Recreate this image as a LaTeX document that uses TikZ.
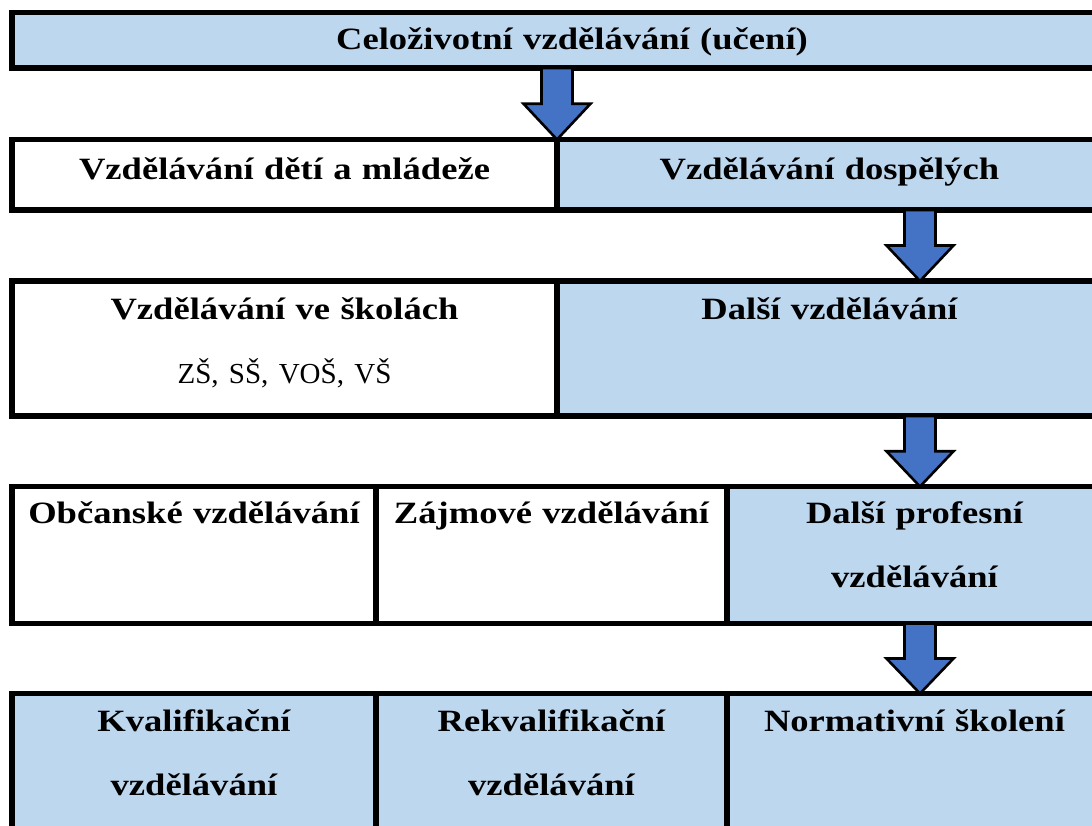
\documentclass[tikz,border=0pt]{standalone}
\usepackage{fontspec}
\setmainfont{Liberation Serif}[FakeStretch=1.18]
\newfontfamily\plainserif{Liberation Serif}
\usetikzlibrary{calc}

\definecolor{cellblue}{HTML}{BDD7EE}
\definecolor{arrowblue}{HTML}{4472C4}

\tikzset{
  cell/.style={draw=black, line width=2.75pt, anchor=north west, inner sep=0pt, outer sep=0pt},
  bluecell/.style={cell, fill=cellblue},
  whitecell/.style={cell, fill=white},
  lbl/.style={anchor=base, align=center, text width=260pt, inner sep=0pt,
    font=\fontsize{15.5}{32}\selectfont\bfseries},
  fatarrow/.style={draw=black, line width=1.3pt, fill=arrowblue, line join=miter},
}

% block arrow from a point on one border to a point on the next
\newcommand{\blockarrow}[2]{%
  \draw[fatarrow] let \p1=(#1), \p2=(#2), \p3=($(#1)!0.5!(#2)$) in
    (\x1-7.75pt,\y1) -- (\x1-7.75pt,\y3) -- (\x1-16.75pt,\y3) -- (\x2,\y2)
    -- (\x1+16.75pt,\y3) -- (\x1+7.75pt,\y3) -- (\x1+7.75pt,\y1) -- cycle;}

\begin{document}
\begin{tikzpicture}[x=0.5pt, y=-0.5pt]
  \useasboundingbox (0,0) rectangle (1092,825);
  \fill[white] (0,0) rectangle (1092,825);
  \clip (0,0) rectangle (1092,825);

  % rows of the table
  \node[bluecell, minimum width=560pt, minimum height=27.75pt] (top) at (12,12.5) {};

  \node[whitecell, minimum width=272.5pt, minimum height=35.25pt] (r2l) at (12,139.5) {};
  \node[bluecell, minimum width=272.5pt, minimum height=35.25pt] (r2r) at (557,139.5) {};

  \node[whitecell, minimum width=272.5pt, minimum height=67.5pt] (r3l) at (12,281) {};
  \node[bluecell, minimum width=272.5pt, minimum height=67.5pt] (r3r) at (557,281) {};

  \node[whitecell, minimum width=182pt, minimum height=68.5pt] (r4a) at (12,486.5) {};
  \node[whitecell, minimum width=175.5pt, minimum height=68.5pt] (r4b) at (376,486.5) {};
  \node[bluecell, minimum width=187.5pt, minimum height=68.5pt] (r4c) at (727,486.5) {};

  \node[bluecell, minimum width=182pt, minimum height=75pt] (r5a) at (12,693.5) {};
  \node[bluecell, minimum width=175.5pt, minimum height=75pt] (r5b) at (376,693.5) {};
  \node[bluecell, minimum width=187.5pt, minimum height=75pt] (r5c) at (727,693.5) {};

  % arrows
  \coordinate (ax) at (920,0);
  \blockarrow{top.south -| r2l.north east}{r2l.north east}
  \blockarrow{r2r.south -| ax}{r3r.north -| ax}
  \blockarrow{r3r.south -| ax}{r4c.north -| ax}
  \blockarrow{r4c.south -| ax}{r5c.north -| ax}

  % texts
  \node[lbl] (ttop) at ([yshift=-18.25pt]top.north) {Celoživotní vzdělávání (učení)};
  \node[lbl] (tr2l) at ([yshift=-20pt]r2l.north) {Vzdělávání dětí a mládeže};
  \node[lbl] (tr2r) at ([yshift=-20pt]r2r.north) {Vzdělávání dospělých};
  \node[lbl] (tr3l) at ([yshift=-19pt]r3l.north)
    {Vzdělávání ve školách\\{\plainserif\mdseries\fontsize{14.5}{15}\selectfont ZŠ, SŠ, VOŠ, VŠ}};
  \node[lbl] (tr3r) at ([yshift=-19pt]r3r.north) {Další vzdělávání};
  \node[lbl] (tr4a) at ([yshift=-18.25pt]r4a.north) {Občanské vzdělávání};
  \node[lbl] (tr4b) at ([yshift=-18.25pt]r4b.north) {Zájmové vzdělávání};
  \node[lbl] (tr4c) at ([yshift=-18.25pt]r4c.north) {Další profesní\\vzdělávání};
  \node[lbl] (tr5a) at ([yshift=-18.75pt]r5a.north) {Kvalifikační\\vzdělávání};
  \node[lbl] (tr5b) at ([yshift=-18.75pt]r5b.north) {Rekvalifikační\\vzdělávání};
  \node[lbl] (tr5c) at ([yshift=-18.75pt]r5c.north) {Normativní školení};
\end{tikzpicture}
\end{document}
